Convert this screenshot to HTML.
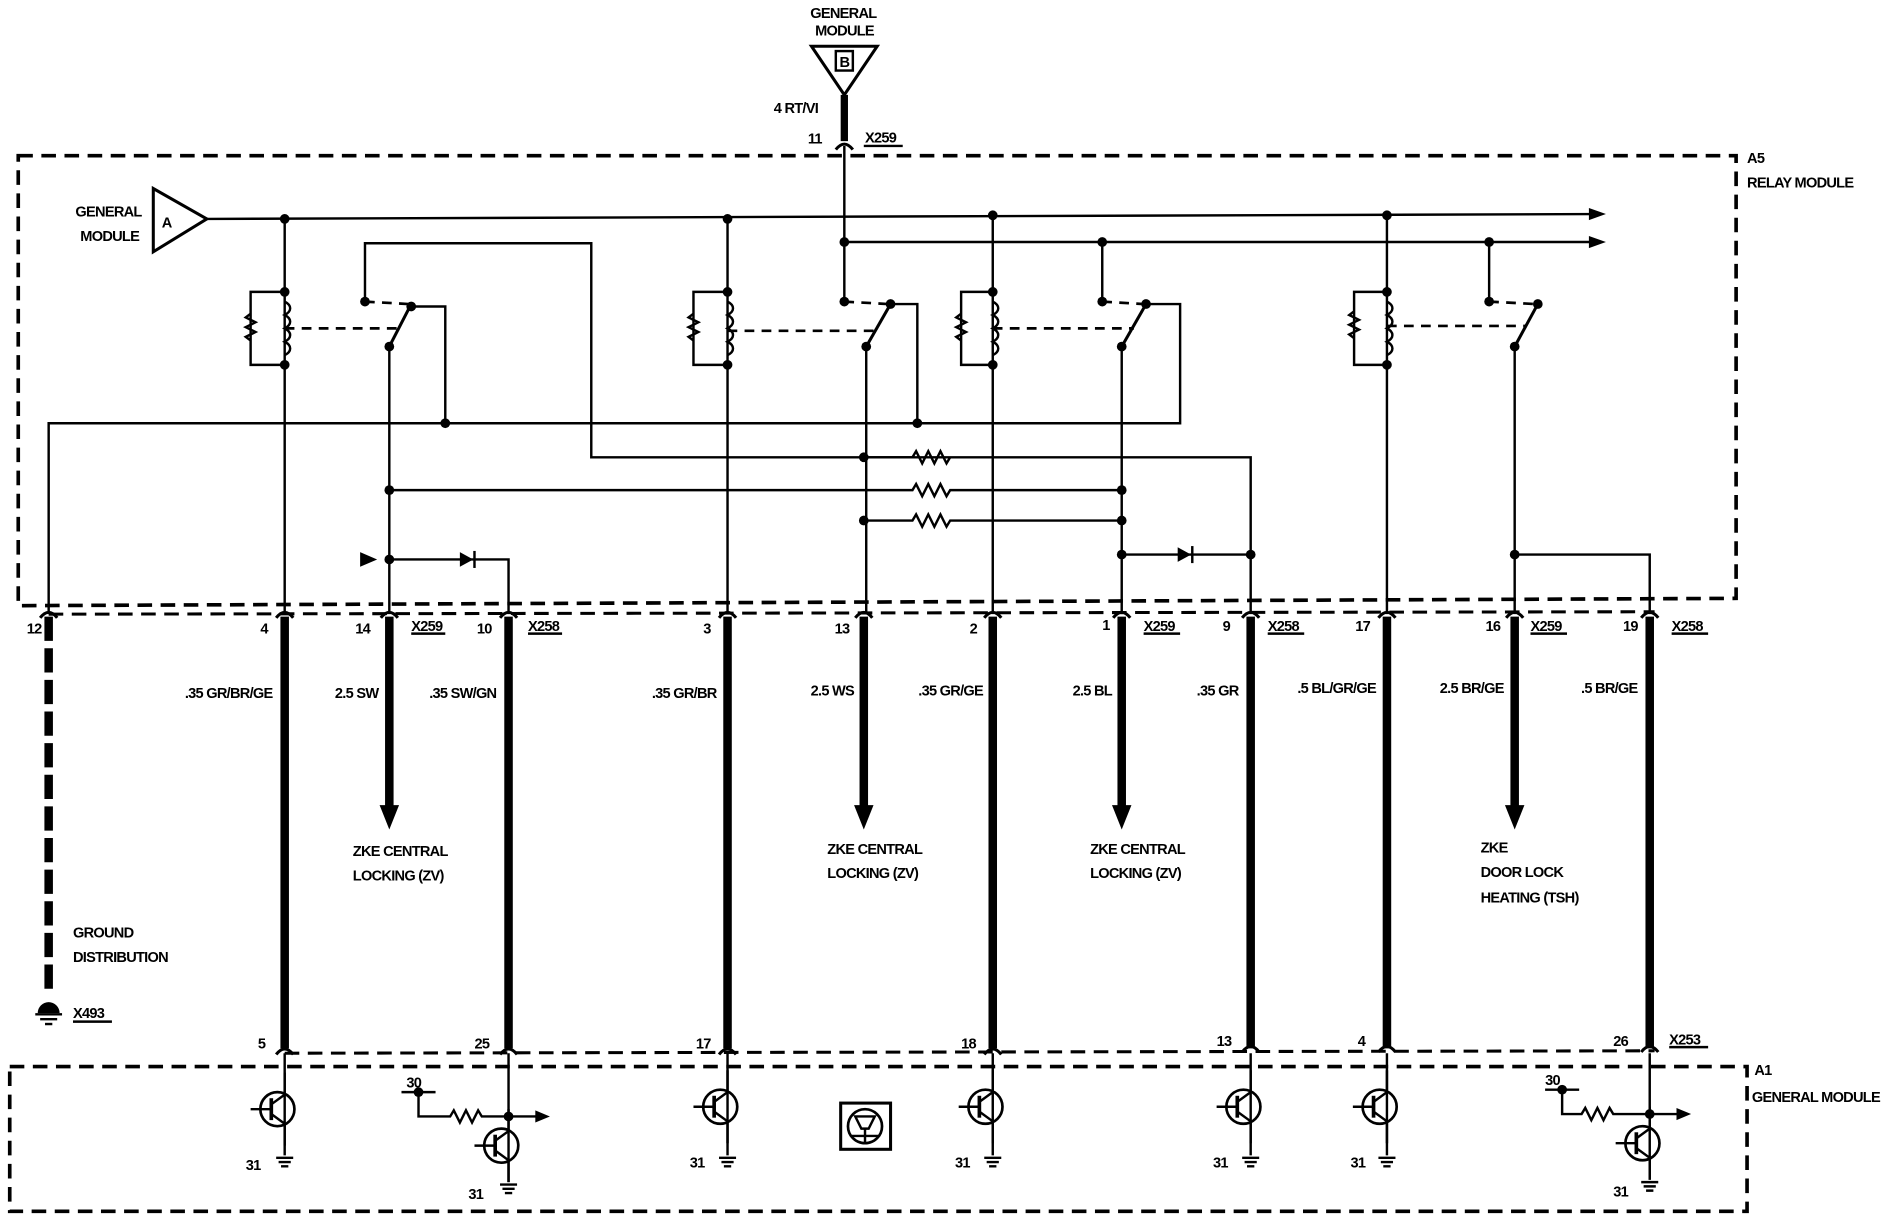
<!DOCTYPE html>
<html><head><meta charset="utf-8"><style>
html,body{margin:0;padding:0;background:#fff}
svg{display:block}
text{font-family:"Liberation Sans",sans-serif;font-weight:bold;font-size:12px;fill:#000;letter-spacing:-0.6px}
</style></head><body>
<svg width="1904" height="1232" viewBox="0 0 1565 1013" preserveAspectRatio="none" xmlns="http://www.w3.org/2000/svg">
<defs>
<g id="fork"><path d="M-7,5 Q0,-4 7,5" fill="none" stroke="#000" stroke-width="2.5"/></g>
<g id="tr">
<circle cx="-6" cy="0" r="14" fill="none" stroke="#000" stroke-width="2.2"/>
<line x1="-28" y1="0" x2="-11" y2="0" stroke="#000" stroke-width="2"/>
<line x1="-11" y1="-9" x2="-11" y2="9" stroke="#000" stroke-width="3"/>
<path d="M-11,-4 L0,-12 L0,-30 M-11,4 L0,12 L0,30" fill="none" stroke="#000" stroke-width="2"/>
</g>
<g id="gnd"><path d="M-7,0 H7 M-5,3.5 H5 M-3,7 H3" stroke="#000" stroke-width="2"/></g>
<g id="dot"><circle r="4" fill="#000"/></g>
</defs>
<g fill="none" stroke="#000" stroke-width="2">
<!-- top general module B -->
<path d="M667,38 L721,38 L694,78 Z" stroke-width="2.5"/>
<rect x="687" y="42" width="14" height="16" stroke-width="2"/>
<line x1="694" y1="78" x2="694" y2="116" stroke-width="6"/>
<line x1="694" y1="120" x2="694" y2="248"/>
<!-- relay module box -->
<path d="M15,128 H1427 V492 L15,498 Z" stroke-width="3" stroke-dasharray="12,7"/>
<line x1="40" y1="505" x2="1360" y2="503" stroke-width="2.5" stroke-dasharray="12,7"/>
<!-- triangle A -->
<path d="M126,155 L126,207 L170,180 Z" stroke-width="2.5"/>
<line x1="170" y1="180" x2="1310" y2="176"/>
<line x1="694" y1="199" x2="1310" y2="199"/>
<!-- relay verticals -->
<line x1="234" y1="180" x2="234" y2="505"/>
<line x1="598" y1="180" x2="598" y2="505"/>
<line x1="816" y1="177" x2="816" y2="505"/>
<line x1="1140" y1="177" x2="1140" y2="505"/>
<!-- coil boxes -->
<path d="M234,240 H206 V300 H234"/><path d="M598,240 H570 V300 H598"/>
<path d="M816,240 H790 V300 H816"/><path d="M1140,240 H1113 V300 H1140"/>
<!-- switches -->
<path d="M300,248 V200 H486 V376 H1028 V505"/>
<line x1="320" y1="285" x2="320" y2="505"/>
<line x1="320" y1="285" x2="338" y2="250" stroke-width="2.5"/>
<path d="M338,252 H366 V348"/>
<path d="M40,505 V348 H970 V250 H942"/>
<line x1="712" y1="285" x2="712" y2="505"/>
<line x1="712" y1="285" x2="732" y2="250" stroke-width="2.5"/>
<path d="M732,250 H754 V348"/>
<line x1="906" y1="199" x2="906" y2="248"/>
<line x1="922" y1="285" x2="922" y2="505"/>
<line x1="922" y1="285" x2="942" y2="250" stroke-width="2.5"/>
<line x1="1224" y1="199" x2="1224" y2="248"/>
<line x1="1245" y1="285" x2="1245" y2="505"/>
<line x1="1245" y1="285" x2="1264" y2="250" stroke-width="2.5"/>
<!-- dashed linkages -->
<g stroke-dasharray="8,6" stroke-width="2.2">
<line x1="234" y1="270" x2="330" y2="270"/><line x1="300" y1="248" x2="336" y2="250"/>
<line x1="598" y1="272" x2="722" y2="272"/><line x1="694" y1="248" x2="730" y2="250"/>
<line x1="816" y1="270" x2="932" y2="270"/><line x1="906" y1="248" x2="940" y2="250"/>
<line x1="1140" y1="268" x2="1255" y2="268"/><line x1="1224" y1="248" x2="1262" y2="250"/>
</g>
<!-- resistor rows -->
<path d="M320,403 H750 l3,-5 l5,10 l5,-10 l5,10 l5,-10 l5,10 l3,-5 H922"/>
<path d="M710,428 H750 l3,-5 l5,10 l5,-10 l5,10 l5,-10 l5,10 l3,-5 H922"/>
<path d="M710,376 H750 l3,-5 l5,10 l5,-10 l5,10 l5,-10 l5,10 l3,-5"/>
<!-- diode rows -->
<path d="M320,460 H418 V505"/>
<path d="M922,456 H1028"/>
<path d="M1245,456 H1356 V505"/>
<!-- thick wires -->
<g stroke-width="7">
<line x1="234" y1="507" x2="234" y2="862"/><line x1="418" y1="507" x2="418" y2="862"/>
<line x1="598" y1="507" x2="598" y2="862"/><line x1="816" y1="507" x2="816" y2="862"/>
<line x1="1028" y1="507" x2="1028" y2="862"/><line x1="1140" y1="507" x2="1140" y2="862"/>
<line x1="1356" y1="507" x2="1356" y2="862"/>
<line x1="320" y1="507" x2="320" y2="665"/><line x1="710" y1="507" x2="710" y2="665"/>
<line x1="922" y1="507" x2="922" y2="665"/><line x1="1245" y1="507" x2="1245" y2="665"/>
<line x1="40" y1="507" x2="40" y2="815" stroke-dasharray="20,6"/>
</g>
<!-- lower connector line / A1 box -->
<line x1="234" y1="866" x2="1360" y2="864" stroke-width="2.5" stroke-dasharray="12,7"/>
<path d="M8,877 H1436 V996 H8 Z" stroke-width="3" stroke-dasharray="12,7"/>
<!-- A1 internals -->
<line x1="234" y1="866" x2="234" y2="950"/><line x1="418" y1="866" x2="418" y2="972"/>
<line x1="598" y1="866" x2="598" y2="950"/><line x1="816" y1="866" x2="816" y2="950"/>
<line x1="1028" y1="866" x2="1028" y2="950"/><line x1="1140" y1="866" x2="1140" y2="950"/>
<line x1="1356" y1="866" x2="1356" y2="970"/>
<path d="M330,898 H358 M344,898 V918 H370 l3,-5 l5,10 l5,-10 l5,10 l5,-10 l3,5 H445"/>
<path d="M1270,896 H1298 M1284,896 V916 H1300 l3,-5 l5,10 l5,-10 l5,10 l5,-10 l3,5 H1383"/>
<rect x="691" y="907" width="41" height="38" stroke-width="2.5"/>
<circle cx="711" cy="926" r="14" stroke-width="2.2"/>
<path d="M703,918 L719,918 L714,928 H708 Z M711,928 V940 M700,934 H722" stroke-width="2"/>
</g>
<!-- arrows -->
<g fill="#000">
<path d="M1306,171 L1320,176 L1306,181 Z"/><path d="M1306,194 L1320,199 L1306,204 Z"/>
<path d="M312,662 L328,662 L320,682 Z"/><path d="M702,662 L718,662 L710,682 Z"/>
<path d="M914,662 L930,662 L922,682 Z"/><path d="M1237,662 L1253,662 L1245,682 Z"/>
<path d="M440,913 L452,918 L440,923 Z"/><path d="M1378,911 L1390,916 L1378,921 Z"/>
<path d="M296,454 L310,460 L296,466 Z"/><path d="M378,454 L389,460 L378,466 Z"/>
<path d="M968,450 L979,456 L968,462 Z"/>
<path d="M31,833 a9,9 0 0 1 18,0 Z"/>
</g>
<g stroke="#000" stroke-width="2">
<line x1="390" y1="453" x2="390" y2="467"/><line x1="980" y1="449" x2="980" y2="463"/>
<line x1="29" y1="834" x2="51" y2="834"/><line x1="33" y1="838" x2="47" y2="838"/><line x1="37" y1="842" x2="43" y2="842"/>
<line x1="710" y1="120" x2="742" y2="120"/>
<line x1="338" y1="521" x2="366" y2="521"/><line x1="434" y1="521" x2="462" y2="521"/>
<line x1="940" y1="521" x2="970" y2="521"/><line x1="1042" y1="521" x2="1072" y2="521"/>
<line x1="1258" y1="521" x2="1288" y2="521"/><line x1="1374" y1="521" x2="1404" y2="521"/>
<line x1="60" y1="840" x2="92" y2="840"/><line x1="1372" y1="861" x2="1404" y2="861"/>
</g>
<!-- coils -->
<g fill="none" stroke="#000" stroke-width="2">
<path d="M234,248 c6,3 6,8 0,11 c6,3 6,8 0,11 c6,3 6,8 0,11 c6,3 6,8 0,11"/>
<path d="M598,248 c6,3 6,8 0,11 c6,3 6,8 0,11 c6,3 6,8 0,11 c6,3 6,8 0,11"/>
<path d="M816,248 c6,3 6,8 0,11 c6,3 6,8 0,11 c6,3 6,8 0,11 c6,3 6,8 0,11"/>
<path d="M1140,248 c6,3 6,8 0,11 c6,3 6,8 0,11 c6,3 6,8 0,11 c6,3 6,8 0,11"/>
<path d="M206,258 l-4,3 l8,4 l-8,4 l8,4 l-8,4 l4,3"/>
<path d="M570,258 l-4,3 l8,4 l-8,4 l8,4 l-8,4 l4,3"/>
<path d="M790,258 l-4,3 l8,4 l-8,4 l8,4 l-8,4 l4,3"/>
<path d="M1113,256 l-4,3 l8,4 l-8,4 l8,4 l-8,4 l4,3"/>
</g>
<!-- dots -->
<g>
<use href="#dot" x="234" y="180"/><use href="#dot" x="598" y="180"/><use href="#dot" x="816" y="177"/><use href="#dot" x="1140" y="177"/>
<use href="#dot" x="694" y="199"/><use href="#dot" x="906" y="199"/><use href="#dot" x="1224" y="199"/>
<use href="#dot" x="234" y="240"/><use href="#dot" x="234" y="300"/><use href="#dot" x="598" y="240"/><use href="#dot" x="598" y="300"/>
<use href="#dot" x="816" y="240"/><use href="#dot" x="816" y="300"/><use href="#dot" x="1140" y="240"/><use href="#dot" x="1140" y="300"/>
<use href="#dot" x="300" y="248"/><use href="#dot" x="320" y="285"/><use href="#dot" x="338" y="252"/>
<use href="#dot" x="694" y="248"/><use href="#dot" x="712" y="285"/><use href="#dot" x="732" y="250"/>
<use href="#dot" x="906" y="248"/><use href="#dot" x="922" y="285"/><use href="#dot" x="942" y="250"/>
<use href="#dot" x="1224" y="248"/><use href="#dot" x="1245" y="285"/><use href="#dot" x="1264" y="250"/>
<use href="#dot" x="366" y="348"/><use href="#dot" x="754" y="348"/>
<use href="#dot" x="710" y="376"/><use href="#dot" x="320" y="403"/><use href="#dot" x="922" y="403"/>
<use href="#dot" x="710" y="428"/><use href="#dot" x="922" y="428"/>
<use href="#dot" x="320" y="460"/><use href="#dot" x="922" y="456"/><use href="#dot" x="1028" y="456"/><use href="#dot" x="1245" y="456"/>
<use href="#dot" x="344" y="898"/><use href="#dot" x="418" y="918"/><use href="#dot" x="1284" y="896"/><use href="#dot" x="1356" y="916"/>
</g>
<!-- forks -->
<g>
<use href="#fork" x="694" y="118"/>
<use href="#fork" x="40" y="503"/><use href="#fork" x="234" y="503"/><use href="#fork" x="320" y="503"/><use href="#fork" x="418" y="503"/>
<use href="#fork" x="598" y="503"/><use href="#fork" x="710" y="503"/><use href="#fork" x="816" y="503"/><use href="#fork" x="922" y="503"/>
<use href="#fork" x="1028" y="503"/><use href="#fork" x="1140" y="503"/><use href="#fork" x="1245" y="503"/><use href="#fork" x="1356" y="503"/>
<use href="#fork" x="234" y="862"/><use href="#fork" x="418" y="862"/><use href="#fork" x="598" y="862"/><use href="#fork" x="816" y="862"/>
<use href="#fork" x="1028" y="860"/><use href="#fork" x="1140" y="860"/><use href="#fork" x="1356" y="860"/>
</g>
<!-- transistors -->
<use href="#tr" x="234" y="912"/><use href="#tr" x="598" y="910"/><use href="#tr" x="816" y="910"/>
<use href="#tr" x="1028" y="910"/><use href="#tr" x="1140" y="910"/>
<use href="#tr" x="418" y="942"/><use href="#tr" x="1356" y="940"/>
<use href="#gnd" x="234" y="952"/><use href="#gnd" x="598" y="952"/><use href="#gnd" x="816" y="952"/>
<use href="#gnd" x="1028" y="952"/><use href="#gnd" x="1140" y="952"/><use href="#gnd" x="418" y="974"/><use href="#gnd" x="1356" y="972"/>
<!-- text -->
<text x="666" y="15">GENERAL</text><text x="670" y="29">MODULE</text>
<text x="690" y="55" font-size="11">B</text>
<text x="636" y="93">4 RT/VI</text>
<text x="664" y="118">11</text><text x="711" y="117">X259</text>
<text x="1436" y="134">A5</text><text x="1436" y="154">RELAY MODULE</text>
<text x="62" y="178">GENERAL</text><text x="66" y="198">MODULE</text>
<text x="133" y="187" font-size="13">A</text>
<text x="22" y="521">12</text><text x="214" y="521">4</text><text x="292" y="521">14</text><text x="338" y="519">X259</text>
<text x="392" y="521">10</text><text x="434" y="519">X258</text><text x="578" y="521">3</text><text x="686" y="521">13</text>
<text x="797" y="521">2</text><text x="906" y="518">1</text><text x="940" y="519">X259</text><text x="1005" y="519">9</text>
<text x="1042" y="519">X258</text><text x="1114" y="519">17</text><text x="1221" y="519">16</text><text x="1258" y="519">X259</text>
<text x="1334" y="519">19</text><text x="1374" y="519">X258</text>
<g text-anchor="end">
<text x="224" y="574">.35 GR/BR/GE</text><text x="311" y="574">2.5 SW</text><text x="408" y="574">.35 SW/GN</text>
<text x="589" y="574">.35 GR/BR</text><text x="702" y="572">2.5 WS</text><text x="808" y="572">.35 GR/GE</text>
<text x="914" y="572">2.5 BL</text><text x="1018" y="572">.35 GR</text><text x="1131" y="570">.5 BL/GR/GE</text>
<text x="1236" y="570">2.5 BR/GE</text><text x="1346" y="570">.5 BR/GE</text>
</g>
<text x="290" y="704">ZKE CENTRAL</text><text x="290" y="724">LOCKING (ZV)</text>
<text x="680" y="702">ZKE CENTRAL</text><text x="680" y="722">LOCKING (ZV)</text>
<text x="896" y="702">ZKE CENTRAL</text><text x="896" y="722">LOCKING (ZV)</text>
<text x="1217" y="701">ZKE</text><text x="1217" y="721">DOOR LOCK</text><text x="1217" y="742">HEATING (TSH)</text>
<text x="60" y="771">GROUND</text><text x="60" y="791">DISTRIBUTION</text>
<text x="60" y="837">X493</text>
<text x="212" y="862">5</text><text x="390" y="862">25</text><text x="572" y="862">17</text><text x="790" y="862">18</text>
<text x="1000" y="860">13</text><text x="1116" y="860">4</text><text x="1326" y="860">26</text><text x="1372" y="859">X253</text>
<text x="1442" y="884">A1</text><text x="1440" y="906">GENERAL MODULE</text>
<text x="334" y="894">30</text><text x="1270" y="892">30</text>
<text x="202" y="962">31</text><text x="567" y="960">31</text><text x="785" y="960">31</text>
<text x="997" y="960">31</text><text x="1110" y="960">31</text><text x="385" y="986">31</text><text x="1326" y="984">31</text>
</svg>
</body></html>
